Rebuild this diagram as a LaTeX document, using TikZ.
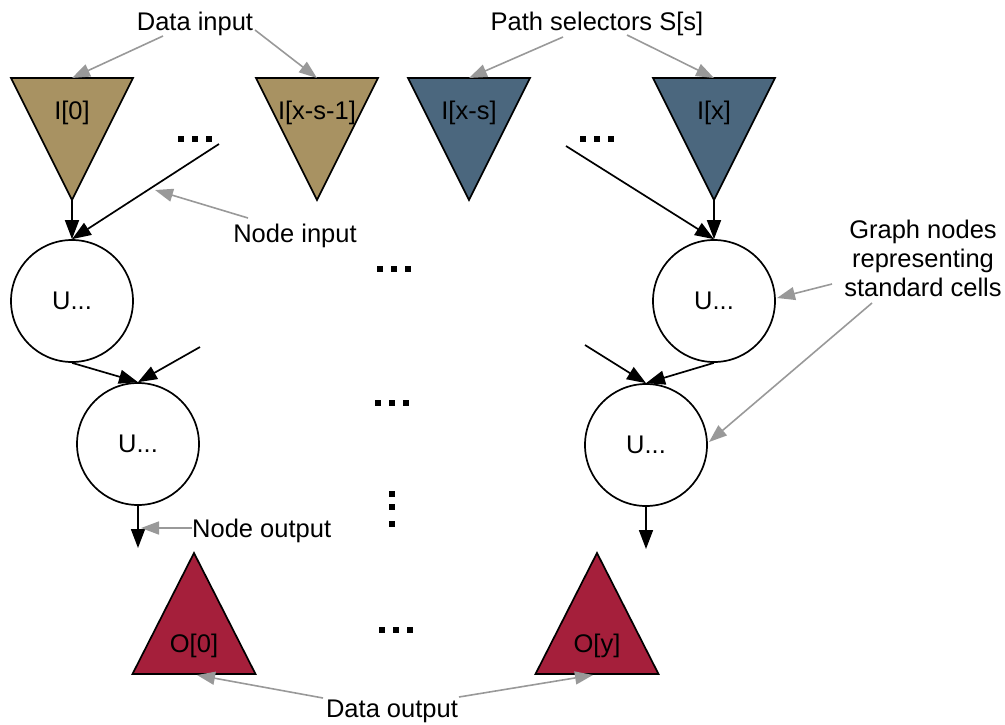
\documentclass[tikz,border=0pt]{standalone}
\usepackage{fontspec}
\setmainfont{Liberation Sans}
\usetikzlibrary{arrows.meta}
\definecolor{intan}{HTML}{A89262}
\definecolor{inblue}{HTML}{4B677E}
\definecolor{outred}{HTML}{A51F3B}
\definecolor{annot}{HTML}{999999}
\tikzset{
  lbl/.style={inner sep=0pt, font=\fontsize{25.5}{29}\selectfont, anchor=base},
  cell/.style={circle, draw=black, line width=1.7pt, fill=white, minimum size=122pt, inner sep=0pt, font=\fontsize{25.5}{29}\selectfont},
  wire/.style={draw=black, line width=1.7pt, -{Triangle[length=19pt,width=14pt]}},
  note/.style={draw=annot, line width=1.6pt, -{Triangle[length=18pt,width=13pt]}},
  tri/.style={draw=black, line width=1.7pt, line join=miter},
  hdots/.pic={\fill (-17,-3) rectangle ++(6,6); \fill (-3,-3) rectangle ++(6,6); \fill (11,-3) rectangle ++(6,6);},
}
\begin{document}
\begin{tikzpicture}[x=1pt,y=-1pt]
\useasboundingbox (0,0) rectangle (1005,724);
% input triangles
\foreach \n/\cx/\col in {I0/72/intan, I1/317/intan, I2/469/inblue, I3/714/inblue}{
  \draw[tri, fill=\col] (\cx-61,78) -- (\cx+61,78) -- (\cx,200) -- cycle;
  \coordinate (top-\n) at (\cx,78);
  \coordinate (apex-\n) at (\cx,200);
}
\node[lbl] (tI0) at (72,119) {I[0]};
\node[lbl] (tI1) at (317,119) {I[x-s-1]};
\node[lbl] (tI2) at (469,119) {I[x-s]};
\node[lbl] (tI3) at (714,119) {I[x]};
% output triangles
\foreach \n/\cx in {O0/194, Oy/597}{
  \draw[tri, fill=outred] (\cx-61.5,674) -- (\cx+61.5,674) -- (\cx,553) -- cycle;
}
\node[lbl] (tO0) at (194,652) {O[0]};
\node[lbl] (tOy) at (597,652) {O[y]};
% cells
\node[cell] (C1) at (72,301) {U...};
\node[cell] (C2) at (138,444) {U...};
\node[cell] (C3) at (714,301) {U...};
\node[cell] (C4) at (646,445) {U...};
% dots
\pic at (194.5,138.5) {hdots};
\pic at (596.5,138.5) {hdots};
\pic at (393.5,269) {hdots};
\pic at (392,403) {hdots};
\pic at (395.5,630) {hdots};
\fill (389,490.5) rectangle ++(6,6);
\fill (389,503.5) rectangle ++(6,6);
\fill (389,520.5) rectangle ++(6,6);
% free ends
\coordinate (f1) at (219,144);
\coordinate (f2) at (566,146);
\coordinate (f3) at (200,347);
\coordinate (f4) at (585,345);
\coordinate (o1) at (138,548);
\coordinate (o2) at (646,549);
% black connectors
\draw[wire] (apex-I0) -- (C1.north);
\draw[wire] (f1) -- (C1.north);
\draw[wire] (apex-I3) -- (C3.north);
\draw[wire] (f2) -- (C3.north);
\draw[wire] (C1.south) -- (C2.north);
\draw[wire] (f3) -- (C2.north);
\draw[wire] (f4) -- (C4.north);
\draw[wire] (C3.south) -- (C4.north);
\draw[wire] (C2.south) -- (o1);
\draw[wire] (C4.south) -- (o2);
% annotation labels
\node[lbl] (dataIn) at (195,30) {Data input};
\node[lbl] (pathSel) at (597,30) {Path selectors S[s]};
\node[lbl] (nodeIn) at (295,242) {Node input};
\node[lbl, anchor=base west] (nodeOut) at (192,537) {Node output};
\node[lbl] (dataOut) at (392,717) {Data output};
\node[lbl, align=center] (graph) at (923,296) {Graph nodes\\representing\\standard cells};
% annotation start and end points
\coordinate (a1) at (163,36);
\coordinate (a2) at (255,30);
\coordinate (a3) at (563,37);
\coordinate (a4) at (627,35);
\coordinate (a5) at (248,218);
\coordinate (a5t) at (155,190);
\coordinate (a6) at (832,284);
\coordinate (a6t) at (777,298);
\coordinate (a7) at (872,303);
\coordinate (a7t) at (709,442);
\coordinate (a8) at (192,528);
\coordinate (a8t) at (141,528);
\coordinate (a9) at (323,698);
\coordinate (a9t) at (197,675);
\coordinate (a10) at (459,697);
\coordinate (a10t) at (593,675);
% gray connectors
\draw[note] (a1) -- (top-I0);
\draw[note] (a2) -- (top-I1);
\draw[note] (a3) -- (top-I2);
\draw[note] (a4) -- (top-I3);
\draw[note] (a5) -- (a5t);
\draw[note] (a6) -- (a6t);
\draw[note] (a7) -- (a7t);
\draw[note] (a8) -- (a8t);
\draw[note] (a9) -- (a9t);
\draw[note] (a10) -- (a10t);
\end{tikzpicture}
\end{document}
